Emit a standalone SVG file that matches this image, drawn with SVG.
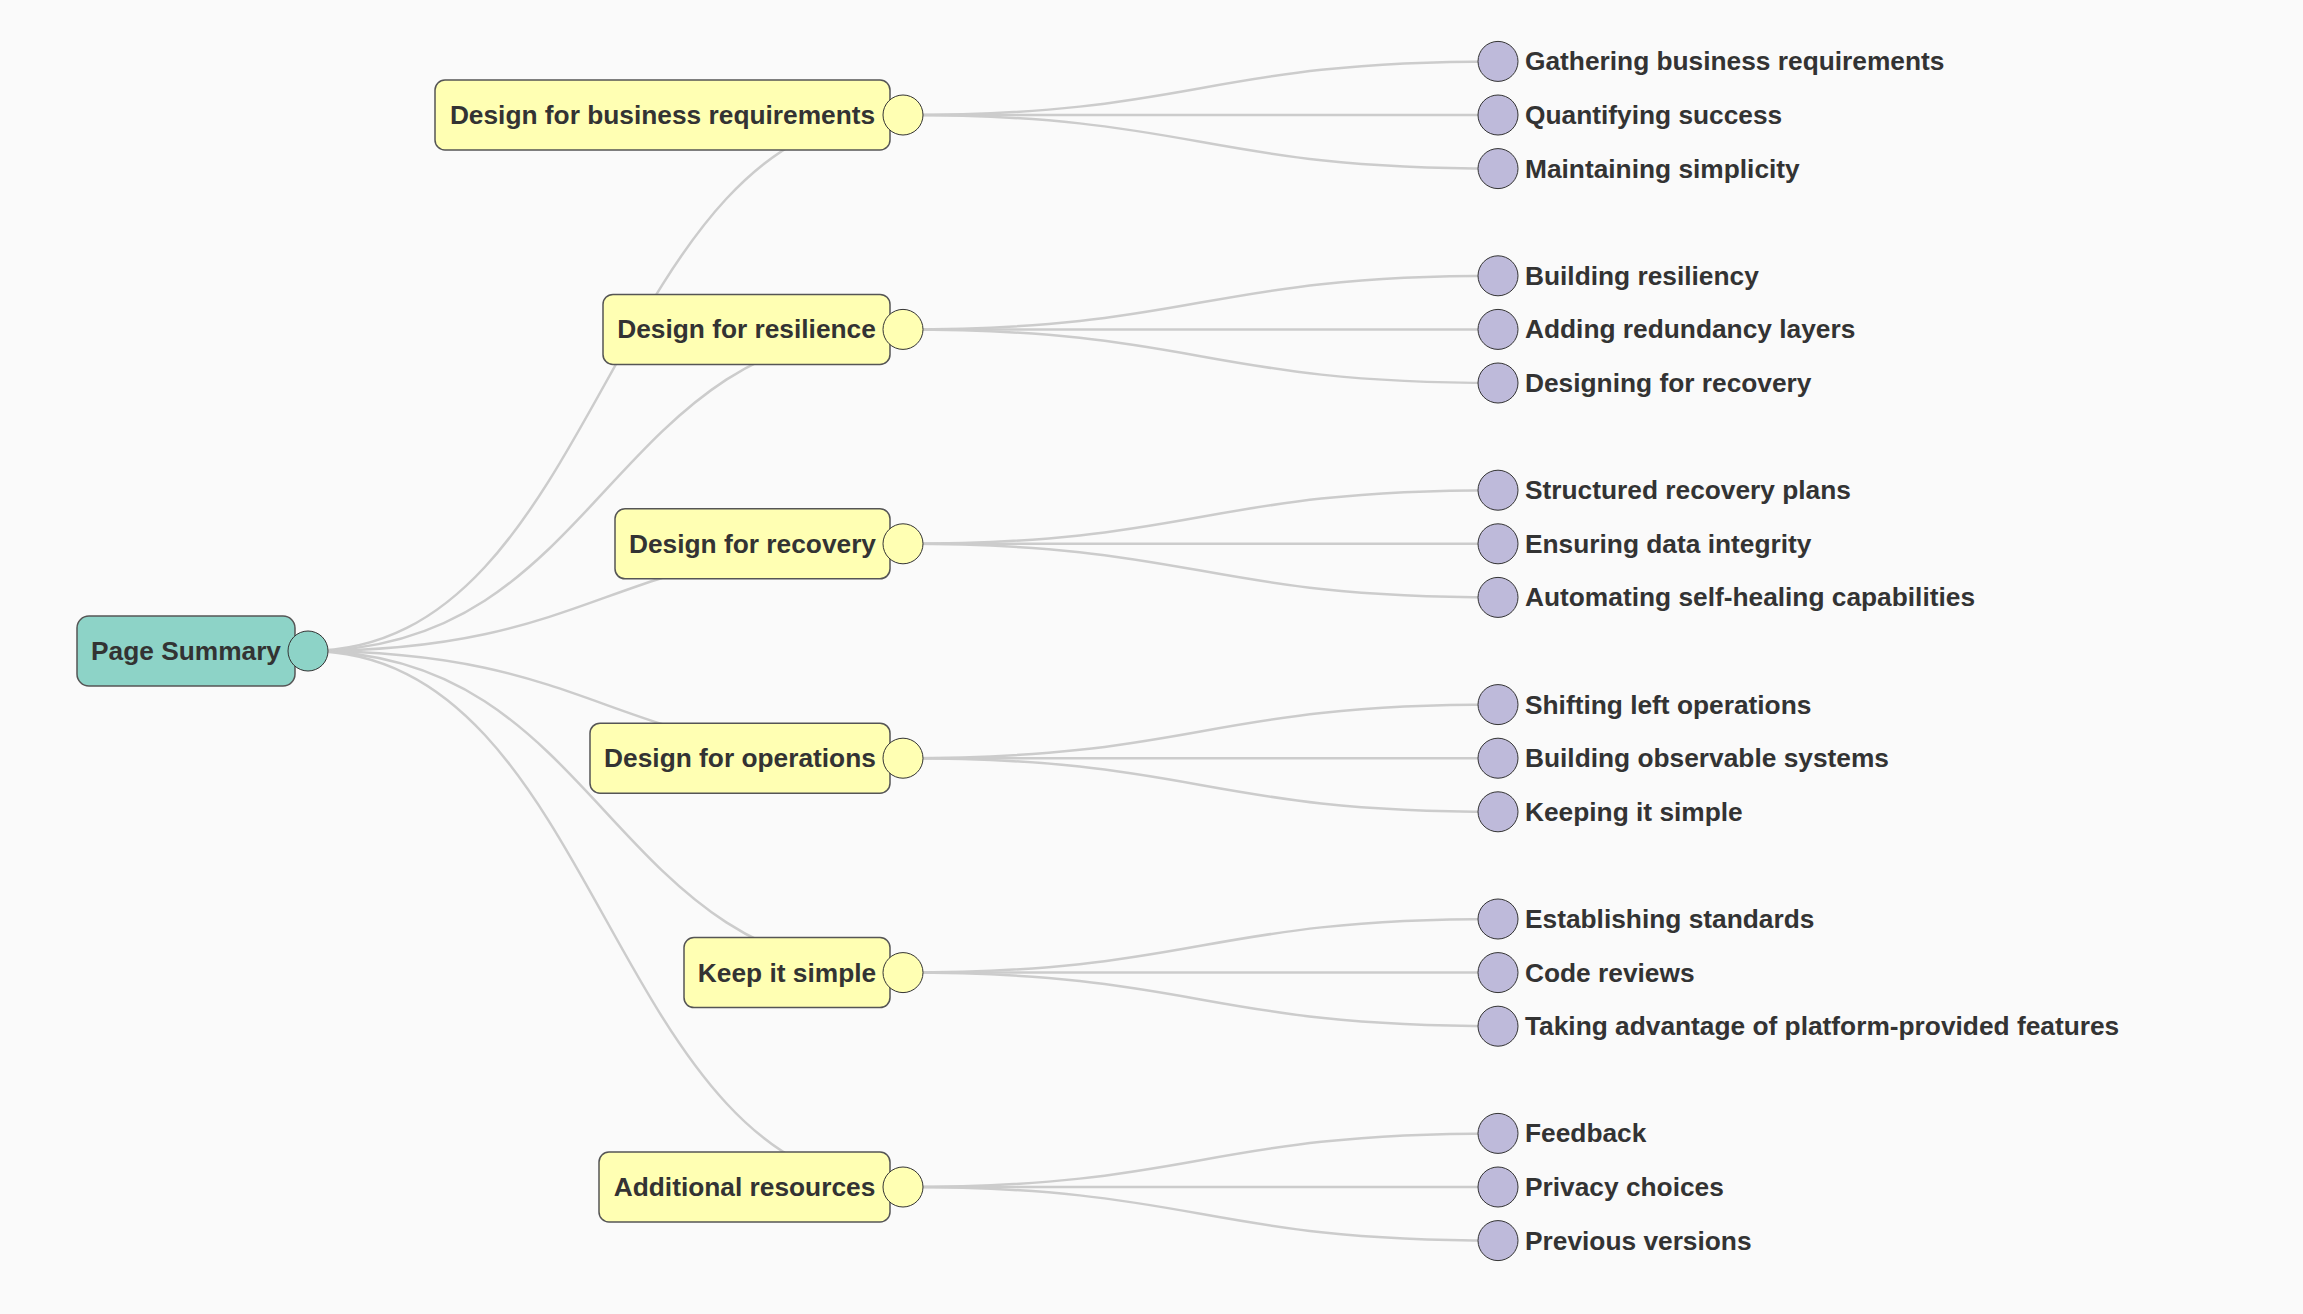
<svg xmlns="http://www.w3.org/2000/svg" width="2303" height="1314" viewBox="0 0 2303 1314">
<style>
.bg{fill:#fafafa}
.link{fill:none;stroke:#cccccc;stroke-width:2.5}
.box{stroke:#555555;stroke-width:1.5}
.dot{stroke:#333333;stroke-width:1}
.root{fill:#8dd3c7}
.mid{fill:#ffffb3}
.leaf{fill:#bebada}
text{font-family:"Liberation Sans",Arial,Helvetica,sans-serif;font-weight:bold;font-size:26.3px;fill:#333333}
.c{text-anchor:middle}
</style>
<rect class="bg" x="0" y="0" width="2303" height="1314"/>
<g id="connectors">
<path class="link" d="M308,651 C605.5,651 605.5,115 903,115"/>
<path class="link" d="M308,651 C605.5,651 605.5,329.4 903,329.4"/>
<path class="link" d="M308,651 C605.5,651 605.5,543.8 903,543.8"/>
<path class="link" d="M308,651 C605.5,651 605.5,758.2 903,758.2"/>
<path class="link" d="M308,651 C605.5,651 605.5,972.6 903,972.6"/>
<path class="link" d="M308,651 C605.5,651 605.5,1187 903,1187"/>
<path class="link" d="M903,115 C1200.5,115 1200.5,61.4 1498,61.4"/>
<path class="link" d="M903,115 L1498,115"/>
<path class="link" d="M903,115 C1200.5,115 1200.5,168.6 1498,168.6"/>
<path class="link" d="M903,329.4 C1200.5,329.4 1200.5,275.8 1498,275.8"/>
<path class="link" d="M903,329.4 L1498,329.4"/>
<path class="link" d="M903,329.4 C1200.5,329.4 1200.5,383 1498,383"/>
<path class="link" d="M903,543.8 C1200.5,543.8 1200.5,490.2 1498,490.2"/>
<path class="link" d="M903,543.8 L1498,543.8"/>
<path class="link" d="M903,543.8 C1200.5,543.8 1200.5,597.4 1498,597.4"/>
<path class="link" d="M903,758.2 C1200.5,758.2 1200.5,704.6 1498,704.6"/>
<path class="link" d="M903,758.2 L1498,758.2"/>
<path class="link" d="M903,758.2 C1200.5,758.2 1200.5,811.8 1498,811.8"/>
<path class="link" d="M903,972.6 C1200.5,972.6 1200.5,919 1498,919"/>
<path class="link" d="M903,972.6 L1498,972.6"/>
<path class="link" d="M903,972.6 C1200.5,972.6 1200.5,1026.2 1498,1026.2"/>
<path class="link" d="M903,1187 C1200.5,1187 1200.5,1133.4 1498,1133.4"/>
<path class="link" d="M903,1187 L1498,1187"/>
<path class="link" d="M903,1187 C1200.5,1187 1200.5,1240.6 1498,1240.6"/>
</g>
<g id="root">
<rect class="box root" x="77" y="616" width="218" height="70" rx="12"/>
<circle class="dot root" cx="308" cy="651" r="20"/>
<text class="c" x="186" y="660">Page Summary</text>
</g>
<g id="n-business">
<rect class="box mid" x="435" y="80" width="455" height="70" rx="10"/>
<circle class="dot mid" cx="903" cy="115" r="20"/>
<text class="c" x="662.5" y="124">Design for business requirements</text>
</g>
<g id="n-resilience">
<rect class="box mid" x="603" y="294.4" width="287" height="70" rx="10"/>
<circle class="dot mid" cx="903" cy="329.4" r="20"/>
<text class="c" x="746.5" y="338.4">Design for resilience</text>
</g>
<g id="n-recovery">
<rect class="box mid" x="615" y="508.8" width="275" height="70" rx="10"/>
<circle class="dot mid" cx="903" cy="543.8" r="20"/>
<text class="c" x="752.5" y="552.8">Design for recovery</text>
</g>
<g id="n-operations">
<rect class="box mid" x="590" y="723.2" width="300" height="70" rx="10"/>
<circle class="dot mid" cx="903" cy="758.2" r="20"/>
<text class="c" x="740" y="767.2">Design for operations</text>
</g>
<g id="n-simple">
<rect class="box mid" x="684" y="937.6" width="206" height="70" rx="10"/>
<circle class="dot mid" cx="903" cy="972.6" r="20"/>
<text class="c" x="787" y="981.6">Keep it simple</text>
</g>
<g id="n-additional">
<rect class="box mid" x="599" y="1152" width="291" height="70" rx="10"/>
<circle class="dot mid" cx="903" cy="1187" r="20"/>
<text class="c" x="744.5" y="1196">Additional resources</text>
</g>
<g id="l-0-0"><circle class="dot leaf" cx="1498" cy="61.4" r="20"/><text x="1525" y="70.4">Gathering business requirements</text></g>
<g id="l-0-1"><circle class="dot leaf" cx="1498" cy="115" r="20"/><text x="1525" y="124">Quantifying success</text></g>
<g id="l-0-2"><circle class="dot leaf" cx="1498" cy="168.6" r="20"/><text x="1525" y="177.6">Maintaining simplicity</text></g>
<g id="l-1-0"><circle class="dot leaf" cx="1498" cy="275.8" r="20"/><text x="1525" y="284.8">Building resiliency</text></g>
<g id="l-1-1"><circle class="dot leaf" cx="1498" cy="329.4" r="20"/><text x="1525" y="338.4">Adding redundancy layers</text></g>
<g id="l-1-2"><circle class="dot leaf" cx="1498" cy="383" r="20"/><text x="1525" y="392">Designing for recovery</text></g>
<g id="l-2-0"><circle class="dot leaf" cx="1498" cy="490.2" r="20"/><text x="1525" y="499.2">Structured recovery plans</text></g>
<g id="l-2-1"><circle class="dot leaf" cx="1498" cy="543.8" r="20"/><text x="1525" y="552.8">Ensuring data integrity</text></g>
<g id="l-2-2"><circle class="dot leaf" cx="1498" cy="597.4" r="20"/><text x="1525" y="606.4">Automating self-healing capabilities</text></g>
<g id="l-3-0"><circle class="dot leaf" cx="1498" cy="704.6" r="20"/><text x="1525" y="713.6">Shifting left operations</text></g>
<g id="l-3-1"><circle class="dot leaf" cx="1498" cy="758.2" r="20"/><text x="1525" y="767.2">Building observable systems</text></g>
<g id="l-3-2"><circle class="dot leaf" cx="1498" cy="811.8" r="20"/><text x="1525" y="820.8">Keeping it simple</text></g>
<g id="l-4-0"><circle class="dot leaf" cx="1498" cy="919" r="20"/><text x="1525" y="928">Establishing standards</text></g>
<g id="l-4-1"><circle class="dot leaf" cx="1498" cy="972.6" r="20"/><text x="1525" y="981.6">Code reviews</text></g>
<g id="l-4-2"><circle class="dot leaf" cx="1498" cy="1026.2" r="20"/><text x="1525" y="1035.2">Taking advantage of platform-provided features</text></g>
<g id="l-5-0"><circle class="dot leaf" cx="1498" cy="1133.4" r="20"/><text x="1525" y="1142.4">Feedback</text></g>
<g id="l-5-1"><circle class="dot leaf" cx="1498" cy="1187" r="20"/><text x="1525" y="1196">Privacy choices</text></g>
<g id="l-5-2"><circle class="dot leaf" cx="1498" cy="1240.6" r="20"/><text x="1525" y="1249.6">Previous versions</text></g>
</svg>
